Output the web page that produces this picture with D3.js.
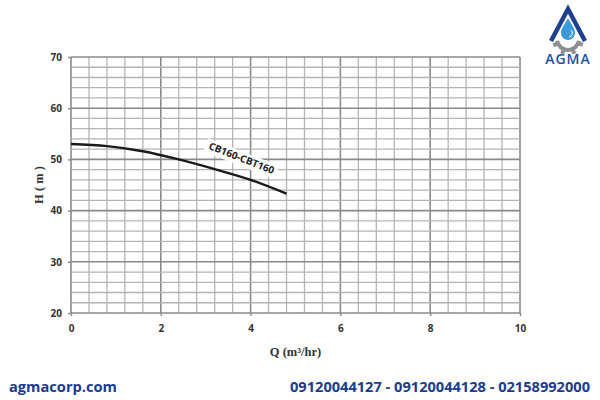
<!DOCTYPE html>
<html><head><meta charset="utf-8">
<script src="https://cdn.jsdelivr.net/npm/d3@7"></script>
<style>body{margin:0;background:#fff}svg{display:block}</style>
</head><body><svg id="c" width="600" height="400"></svg>
<script>
const flowQ = [0, 0.8, 1.6, 2.4, 3.2, 4.0, 4.8];
const headH = [53.0, 52.6, 51.6, 50.0, 48.1, 46.0, 43.3];
const xTicks = [0, 2, 4, 6, 8, 10];
const yTicks = [20, 30, 40, 50, 60, 70];
const seriesName = "CB160-CBT160";
const xTitle = "Q (m³/hr)";
const yTitle = "H ( m )";
const site = "agmacorp.com";
const phones = "09120044127 - 09120044128 - 02158992000";

const svg = d3.select("#c");
const m = {l:71, r:80, t:57, b:87};
const W = 600, H = 400;
const x = d3.scaleLinear().domain([0,10]).range([m.l, W-m.r]);
const y = d3.scaleLinear().domain([20,70]).range([H-m.b, m.t]);

const g = svg.append("g");
const xMinor = d3.range(0, 10.001, 0.4).map(v=>+v.toFixed(2));
const yMinor = d3.range(20, 70.001, 2);
g.selectAll(".vx").data(xMinor).join("line")
  .attr("x1",d=>x(d)).attr("x2",d=>x(d)).attr("y1",y(20)).attr("y2",y(70))
  .attr("stroke",d=>xTicks.includes(d)?"#8a8a8a":"#b4b4b4").attr("stroke-width",d=>xTicks.includes(d)?1.6:1.3);
g.selectAll(".hy").data(yMinor).join("line")
  .attr("y1",d=>y(d)).attr("y2",d=>y(d)).attr("x1",x(0)).attr("x2",x(10))
  .attr("stroke",d=>yTicks.includes(d)?"#8a8a8a":"#b4b4b4").attr("stroke-width",d=>yTicks.includes(d)?1.6:1.3);

const xa = svg.append("g").attr("transform",`translate(0,${y(20)})`)
  .call(d3.axisBottom(x).tickValues(xTicks).tickSize(3).tickPadding(9));
const ya = svg.append("g").attr("transform",`translate(${x(0)},0)`)
  .call(d3.axisLeft(y).tickValues(yTicks).tickSize(3).tickPadding(6));
[xa,ya].forEach(a=>{
  a.select(".domain").remove();
  a.selectAll("line").attr("stroke","#8a8a8a").attr("stroke-width",1.4);
  a.selectAll("text").attr("font-family","'Open Sans', sans-serif").attr("font-weight","bold")
   .attr("font-size",10).attr("fill","#333");
});

// series label with white backing
const lab = svg.append("g").attr("transform",`translate(${x(3.77)},${y(49.6)}) rotate(21.5)`);
lab.append("rect").attr("x",-38).attr("y",-10).attr("width",76).attr("height",14).attr("fill","#fff");
lab.append("text").attr("text-anchor","middle").attr("font-family","'Open Sans', sans-serif")
  .attr("font-weight","bold").attr("font-size",10).attr("fill","#222").text(seriesName);

const line = d3.line().x((d,i)=>x(flowQ[i])).y(d=>y(d)).curve(d3.curveMonotoneX);
svg.append("path").datum(headH).attr("d",line).attr("fill","none")
  .attr("stroke","#1a1a1a").attr("stroke-width",2.4);

svg.append("text").attr("x",x(5)).attr("y",356).attr("text-anchor","middle")
  .attr("font-family","'Liberation Serif', serif").attr("font-weight","bold")
  .attr("font-size",12.5).attr("fill","#333").text(xTitle);
svg.append("text").attr("transform",`translate(43,${y(45)}) rotate(-90)`).attr("text-anchor","middle")
  .attr("font-family","'Liberation Serif', serif").attr("font-weight","bold")
  .attr("font-size",12.5).attr("fill","#333").text(yTitle);

svg.append("text").attr("x",9).attr("y",392).attr("font-family","'Open Sans', sans-serif")
  .attr("font-weight","bold").attr("font-size",15).attr("fill","#1c3a8e")
  .attr("textLength",108).attr("lengthAdjust","spacingAndGlyphs").text(site);
svg.append("text").attr("x",290).attr("y",392).attr("font-family","'Open Sans', sans-serif")
  .attr("font-weight","bold").attr("font-size",15).attr("fill","#1c3a8e")
  .attr("textLength",300).attr("lengthAdjust","spacingAndGlyphs").text(phones);

// logo
const lg = svg.append("g");
const gc = [568, 39];
lg.append("path").attr("d", d3.arc()({innerRadius:9, outerRadius:13, startAngle:Math.PI*0.55, endAngle:Math.PI*1.45}))
  .attr("transform",`translate(${gc[0]},${gc[1]})`).attr("fill","#8d8f93");
d3.range(4).forEach(i=>{
  const a = Math.PI*(0.62 + i*0.25);
  lg.append("rect").attr("x",-2).attr("y",-16).attr("width",4).attr("height",5)
    .attr("transform",`translate(${gc[0]},${gc[1]}) rotate(${a*180/Math.PI})`).attr("fill","#8d8f93");
});
lg.append("path").attr("d","M551,41 L568,9 L585,41").attr("fill","none")
  .attr("stroke","#1f3f8f").attr("stroke-width",4.5).attr("stroke-linejoin","miter");
lg.append("path").attr("d","M568,18 C571,24 575,28 575,33 A7,7 0 0 1 561,33 C561,28 565,24 568,18 Z")
  .attr("fill","#3a9ad9");
lg.append("path").attr("d","M571,30 A4,4 0 0 1 569,37").attr("fill","none").attr("stroke","#fff").attr("stroke-width",1);
svg.append("text").attr("x",568).attr("y",64).attr("text-anchor","middle")
  .attr("font-family","'Open Sans', sans-serif").attr("font-weight","600").attr("font-size",14)
  .attr("fill","#1f4fa0").attr("letter-spacing",1).text("AGMA");
</script></body></html>
